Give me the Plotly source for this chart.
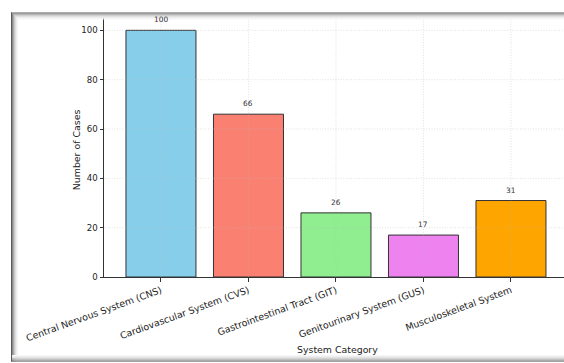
import plotly.graph_objects as go

# Case counts per organ-system category
categories = [
    "Central Nervous System (CNS)",
    "Cardiovascular System (CVS)",
    "Gastrointestinal Tract (GIT)",
    "Genitourinary System (GUS)",
    "Musculoskeletal System",
]
cases = [100, 66, 26, 17, 31]
bar_colors = ["#87CEEB", "#FA8072", "#90EE90", "#EE82EE", "#FFA500"]
y_ticks = [0, 20, 40, 60, 80, 100]

W, H = 564, 363
L, R, T, B = 104, 0, 17.6, 86
PW, PH = W - L - R, H - T - B
FONT = "DejaVu Sans"


def px_x(px):
    return (px - L) / PW


def px_y(py):
    return (H - B - py) / PH


fig = go.Figure()
fig.add_trace(go.Bar(
    x=list(range(len(categories))),
    y=cases,
    width=0.8,
    marker=dict(color=bar_colors, line=dict(color="#333333", width=1)),
    showlegend=False,
    hoverinfo="x+y",
))

GRID = dict(color="rgba(185,185,185,0.6)", width=0.7, dash="1px,1.6px")
shapes = []
# dotted grid drawn over the bars
for i in range(len(categories)):
    shapes.append(dict(type="line", xref="x", yref="paper", x0=i, x1=i, y0=0, y1=1,
                       line=GRID, layer="above"))
for v in y_ticks[1:]:
    shapes.append(dict(type="line", xref="paper", yref="y", x0=0, x1=1, y0=v, y1=v,
                       line=GRID, layer="above"))

# soft shadowed frame around the figure
top_shades = ["#5a5a5a", "#8a8a8a", "#ababab", "#c8c8c8", "#dedede", "#ececec", "#f6f6f6"]
for k, c in enumerate(top_shades):
    shapes.append(dict(type="rect", xref="paper", yref="paper",
                       x0=px_x(11 + k), x1=px_x(W),
                       y0=px_y(12 + k + 1), y1=px_y(12 + k),
                       fillcolor=c, line=dict(width=0), layer="above"))
for k, c in enumerate(top_shades):
    shapes.append(dict(type="rect", xref="paper", yref="paper",
                       x0=px_x(11 + k), x1=px_x(11 + k + 1),
                       y0=px_y(362), y1=px_y(12 + k),
                       fillcolor=c, line=dict(width=0), layer="above"))
bottom_shades = ["#f6f6f6", "#eeeeee", "#e2e2e2", "#d2d2d2", "#bcbcbc", "#a0a0a0", "#858585"]
for k, c in enumerate(bottom_shades):
    shapes.append(dict(type="rect", xref="paper", yref="paper",
                       x0=px_x(11 + 1), x1=px_x(W),
                       y0=px_y(355 + k + 1), y1=px_y(355 + k),
                       fillcolor=c, line=dict(width=0), layer="above"))

annotations = []
for i, v in enumerate(cases):
    annotations.append(dict(x=i, y=v, xref="x", yref="y", text=str(v), showarrow=False,
                            yanchor="middle", yshift=10.5,
                            font=dict(family=FONT, size=7.4, color="#333333")))
annotations.append(dict(x=px_x(337), y=px_y(350), xref="paper", yref="paper",
                        text="System Category", showarrow=False,
                        xanchor="center", yanchor="middle",
                        font=dict(family=FONT, size=9.4, color="#222222")))
annotations.append(dict(x=px_x(76), y=px_y(150), xref="paper", yref="paper",
                        text="Number of Cases", showarrow=False, textangle=-90,
                        xanchor="center", yanchor="middle",
                        font=dict(family=FONT, size=9.4, color="#222222")))

fig.update_layout(
    width=W, height=H,
    margin=dict(l=L, r=R, t=T, b=B, pad=0),
    paper_bgcolor="white", plot_bgcolor="white",
    font=dict(family=FONT, color="#222222"),
    shapes=shapes,
    annotations=annotations,
    bargap=0.2,
)
fig.update_xaxes(
    range=[-0.651, 4.606],
    tickmode="array",
    tickvals=list(range(len(categories))),
    ticktext=categories,
    tickangle=-20,
    tickfont=dict(family=FONT, size=9.4, color="#222222"),
    ticks="outside", ticklen=3.5, tickwidth=1, tickcolor="#333333",
    showline=True, linecolor="#333333", linewidth=1,
    showgrid=False, zeroline=False, automargin=False,
)
fig.update_yaxes(
    range=[0, 105],
    tickmode="array",
    tickvals=y_ticks,
    tickfont=dict(family=FONT, size=8.6, color="#222222"),
    ticks="outside", ticklen=3.5, tickwidth=1, tickcolor="#333333",
    showline=True, linecolor="#333333", linewidth=1,
    showgrid=False, zeroline=False, automargin=False,
)

fig.write_html("out.html")
